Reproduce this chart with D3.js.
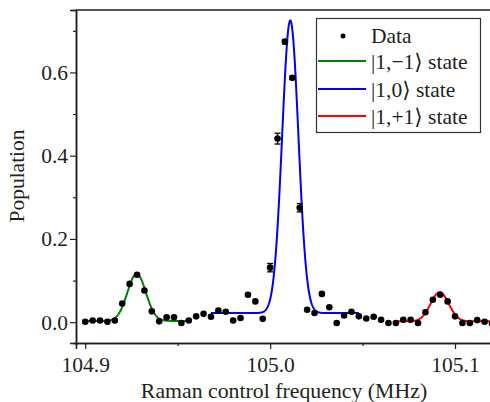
<!DOCTYPE html>
<html>
<head>
<meta charset="utf-8">
<script src="https://cdn.jsdelivr.net/npm/d3@7"></script>
<style>
  body { margin: 0; background: #fff; }
  svg text { font-family: "Liberation Serif", "Times New Roman", "DejaVu Serif", serif !important; }
</style>
</head>
<body>
<svg width="490" height="402"></svg>
<script>
// measured points (MHz, population)
var freq = [104.900, 104.904, 104.908, 104.912, 104.916, 104.920, 104.924, 104.928, 104.932, 104.936,
            104.940, 104.944, 104.948, 104.952, 104.956, 104.960, 104.964, 104.968, 104.972, 104.976,
            104.980, 104.984, 104.988, 104.992, 104.996, 105.000, 105.004, 105.008, 105.012, 105.016,
            105.020, 105.024, 105.028, 105.032, 105.036, 105.040, 105.044, 105.048, 105.052, 105.056,
            105.060, 105.064, 105.068, 105.072, 105.076, 105.080, 105.084, 105.088, 105.092, 105.096,
            105.100, 105.104, 105.108, 105.112, 105.116, 105.120]
var population = [0.001, 0.004, 0.004, 0.001, 0.004, 0.045, 0.092, 0.114, 0.076, 0.026,
                  0.002, 0.012, 0.012, -0.002, 0.004, 0.014, 0.020, 0.013, 0.028, 0.025,
                  0.004, 0.010, 0.066, 0.050, 0.008, 0.131, 0.441, 0.674, 0.587, 0.275,
                  0.030, 0.022, 0.068, 0.036, -0.002, 0.016, 0.025, 0.014, 0.009, 0.013,
                  0.006, -0.002, -0.002, 0.006, 0.006, -0.002, 0.024, 0.054, 0.066, 0.050,
                  0.014, -0.002, -0.002, 0.005, 0.001, -0.003]
// error bars only on the big peak points
var errIndex = [25, 26, 27, 28, 29]
var errSize = [0.010, 0.013, 0.005, 0.004, 0.010]

// gaussian fits for each state
var fitNames = ['|1,\u22121\u27E9 state', '|1,0\u27E9 state', '|1,+1\u27E9 state']
var fitColors = ['#008000', '#0000ff', '#ff0000']
var fitCenter = [104.9278, 105.0109, 105.0917]
var fitSigma = [0.0050, 0.0044, 0.0049]
var fitAmp = [0.113, 0.703, 0.070]
var fitBase = [0.003, 0.022, 0.002]
var fitFrom = [104.900, 104.968, 105.0674]
var fitTo = [104.956, 105.048, 105.120]

var xTicks = [104.9, 105.0, 105.1]
var xMinor = [104.95, 105.05]
var yTicks = [0.0, 0.2, 0.4, 0.6]
var yMinor = [0.1, 0.3, 0.5, 0.7]

var svg = d3.select('svg')
var margin = {top: 10, left: 76, bottom: 343, right: 492}
var textColor = '#231f20'
var serif = '"Liberation Serif", "Times New Roman", "DejaVu Serif", serif'

var xScale = d3.scaleLinear().domain([104.895, 105.12]).range([margin.left, margin.right])
var yScale = d3.scaleLinear().domain([-0.05, 0.75]).range([margin.bottom, margin.top])

// frame top line
svg.append('line')
    .attr('x1', margin.left).attr('x2', margin.right)
    .attr('y1', margin.top).attr('y2', margin.top)
    .attr('stroke', textColor).attr('stroke-width', 1.5)

// axes
var xAxis = svg.append('g')
    .attr('transform', `translate(0,${margin.bottom})`)
    .call(d3.axisBottom(xScale).tickValues(xTicks).tickFormat(d3.format('.1f')).tickSizeOuter(0).tickSize(6).tickPadding(8))
var xAxisMinor = svg.append('g')
    .attr('transform', `translate(0,${margin.bottom})`)
    .call(d3.axisBottom(xScale).tickValues(xMinor).tickFormat('').tickSizeOuter(0).tickSize(3))
var yAxis = svg.append('g')
    .attr('transform', `translate(${margin.left},0)`)
    .call(d3.axisLeft(yScale).tickValues(yTicks).tickFormat(d3.format('.1f')).tickSizeOuter(0).tickSize(6).tickPadding(2))
var yAxisMinor = svg.append('g')
    .attr('transform', `translate(${margin.left},0)`)
    .call(d3.axisLeft(yScale).tickValues(yMinor).tickFormat('').tickSizeOuter(0).tickSize(3))

svg.selectAll('g').attr('font-family', serif)
svg.selectAll('.domain').attr('stroke', textColor).attr('stroke-width', 1.5)
svg.selectAll('.tick line').attr('stroke', textColor).attr('stroke-width', 1.2)
svg.selectAll('.tick text')
    .style('font-family', serif)
    .attr('font-size', 21.5)
    .attr('fill', textColor)

// axis titles
svg.append('text')
    .attr('x', (margin.left + margin.right) / 2)
    .attr('y', 398)
    .attr('text-anchor', 'middle')
    .style('font-family', serif)
    .attr('font-size', 21.8)
    .attr('fill', textColor)
    .text('Raman control frequency (MHz)')

svg.append('text')
    .attr('transform', 'translate(24,176) rotate(-90)')
    .attr('text-anchor', 'middle')
    .style('font-family', serif)
    .attr('font-size', 21.5)
    .attr('fill', textColor)
    .text('Population')

// fit curves
var plot = svg.append('g')
var line = d3.line()
    .x(d => xScale(d[0]))
    .y(d => yScale(d[1]))

fitNames.forEach((name, i) => {
    var pts = d3.range(fitFrom[i], fitTo[i] + 1e-9, 0.0002).map(f => {
        var z = (f - fitCenter[i]) / fitSigma[i]
        return [f, fitBase[i] + fitAmp[i] * Math.exp(-0.5 * z * z)]
    })
    plot.append('path')
        .attr('d', line(pts))
        .attr('fill', 'none')
        .attr('stroke', fitColors[i])
        .attr('stroke-width', 2)
})

// error bars
errIndex.forEach((k, i) => {
    var x = xScale(freq[k])
    var y1 = yScale(population[k] - errSize[i])
    var y2 = yScale(population[k] + errSize[i])
    var g = plot.append('g').attr('stroke', '#000').attr('stroke-width', 1.3)
    g.append('line').attr('x1', x).attr('x2', x).attr('y1', y1).attr('y2', y2)
    g.append('line').attr('x1', x - 3).attr('x2', x + 3).attr('y1', y1).attr('y2', y1)
    g.append('line').attr('x1', x - 3).attr('x2', x + 3).attr('y1', y2).attr('y2', y2)
})

// data dots
plot.selectAll('circle.pt')
    .data(freq)
    .enter()
    .append('circle')
    .attr('class', 'pt')
    .attr('cx', d => xScale(d))
    .attr('cy', (d, i) => yScale(population[i]))
    .attr('r', 3.3)
    .attr('fill', '#000')

// legend
var legend = svg.append('g')
legend.append('rect')
    .attr('x', 316.5).attr('y', 18.5)
    .attr('width', 164).attr('height', 114)
    .attr('fill', '#fff')
    .attr('stroke', '#333')
    .attr('stroke-width', 1.2)

legend.append('circle')
    .attr('cx', 343).attr('cy', 36)
    .attr('r', 2.5).attr('fill', '#000')
legend.append('text')
    .attr('x', 371).attr('y', 35).attr('dy', '0.35em')
    .style('font-family', serif)
    .attr('font-size', 21.5).attr('fill', textColor)
    .text('Data')

var rowY = [61, 89, 116]
fitNames.forEach((name, i) => {
    legend.append('line')
        .attr('x1', 318).attr('x2', 366)
        .attr('y1', rowY[i]).attr('y2', rowY[i])
        .attr('stroke', fitColors[i]).attr('stroke-width', 2)
    legend.append('text')
        .attr('x', 371).attr('y', rowY[i]).attr('dy', '0.35em')
        .style('font-family', serif)
        .attr('font-size', 21.5).attr('fill', textColor)
        .text(name)
})
</script>
</body>
</html>
